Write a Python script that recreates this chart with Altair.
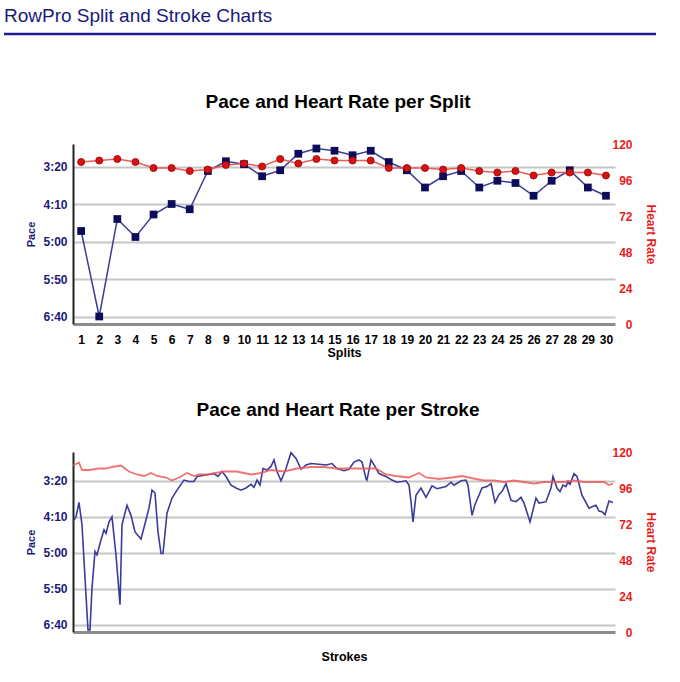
import altair as alt
import pandas as pd

# ---------------- data ----------------
header_text = "RowPro Split and Stroke Charts"

split_no = list(range(1, 31))
split_pace = [286, 400, 270, 294, 264, 250, 257, 206, 193, 197, 213, 205, 183, 176, 179,
              185, 179, 194, 205, 228, 213, 206, 228, 219, 222, 239, 219, 205, 228, 239]
split_hr = [108, 109, 110, 108, 104, 104, 102, 103, 106, 107, 105, 110, 107, 110, 109,
            109, 109, 104, 104, 104, 103, 104, 102, 101, 102, 99, 101, 101, 101, 99]

stroke_pace_x = [0, 3, 6, 9, 12, 15, 17, 19, 22, 24, 27, 31, 33, 36, 39, 43, 47, 49, 54, 58,
                 62, 68, 73, 76, 79, 82, 85, 88, 90, 94, 99, 104, 111, 116, 121, 124, 133, 138,
                 141, 145, 149, 153, 158, 163, 168, 173, 178, 181, 184, 187, 190, 194, 198, 201,
                 204, 208, 213, 218, 223, 228, 233, 238, 246, 253, 259, 264, 271, 276, 281, 286,
                 289, 293, 294, 298, 301, 306, 313, 319, 324, 329, 333, 336, 338, 340, 343, 348,
                 353, 359, 364, 373, 378, 381, 388, 393, 395, 399, 402, 406, 409, 414, 418, 422,
                 426, 429, 433, 438, 443, 448, 451, 457, 463, 466, 473, 478, 480, 484, 487, 490,
                 493, 495, 497, 501, 504, 509, 516, 519, 523, 526, 529, 532, 536, 540]
stroke_pace = [257, 250, 230, 261, 335, 407, 407, 349, 298, 303, 287, 268, 273, 257, 250, 303,
               372, 261, 234, 248, 271, 281, 254, 238, 213, 217, 271, 301, 301, 245, 224, 213,
               199, 201, 201, 194, 192, 191, 190, 194, 187, 194, 206, 210, 213, 210, 205, 209,
               199, 206, 183, 185, 180, 171, 187, 200, 183, 161, 169, 184, 178, 176, 177, 178,
               176, 183, 186, 184, 174, 171, 174, 197, 199, 171, 178, 190, 194, 199, 202, 201,
               200, 206, 229, 257, 220, 210, 223, 207, 211, 208, 202, 206, 200, 199, 206, 248,
               233, 220, 210, 208, 204, 230, 219, 215, 204, 227, 229, 223, 231, 257, 224, 231,
               229, 210, 194, 210, 215, 206, 208, 201, 205, 190, 194, 220, 238, 236, 234, 242,
               243, 247, 228, 230]

stroke_hr_x = [0, 6, 9, 16, 26, 33, 39, 48, 56, 64, 71, 78, 84, 93, 99, 106, 114, 121, 126,
               134, 151, 164, 178, 188, 198, 211, 224, 238, 251, 264, 279, 293, 303, 313, 323,
               336, 346, 353, 366, 379, 389, 403, 411, 421, 431, 441, 451, 461, 471, 481, 491,
               501, 511, 521, 531, 536, 540]
stroke_hr = [111, 113, 108, 108, 109, 109, 110, 111, 107, 105, 104, 106, 104, 103, 101, 103,
             106, 104, 105, 105, 107, 107, 105, 106, 108, 107, 109, 110, 110, 109, 109, 109,
             109, 105, 104, 103, 106, 103, 102, 103, 104, 102, 101, 101, 100, 101, 100, 99,
             100, 100, 100, 101, 100, 100, 100, 98, 99]

pace_ticks = [200, 250, 300, 350, 400]
hr_ticks = [0, 24, 48, 72, 96, 120]

# ---------------- style ----------------
FONT = "Liberation Sans"
NAVY = "#1a1a78"
RED = "#e81c1c"
PACE_LINE = "#3c3c98"
PACE_MARK = "#0c0c5a"
HR_LINE = "#ec5a5a"
HR_MARK = "#d41414"

W, H = 542, 180

pace_label = ("floor(datum.value/60) + ':' + (datum.value % 60 < 10 ? '0' : '') "
              "+ (datum.value % 60)")


def pace_axis():
    return alt.Axis(values=pace_ticks, labelExpr=pace_label, title="Pace", grid=True,
                    gridColor="#c6c6c6", gridWidth=2, domainColor="#222222", domainWidth=2,
                    ticks=False, tickSize=0, labelColor=NAVY, labelFont=FONT, labelFontSize=12,
                    labelFontWeight="bold", labelPadding=6, titleColor=NAVY, titleFont=FONT,
                    titleFontSize=11, titleFontWeight="bold", titleX=-42, titleY=90,
                    titleAngle=270, titleAlign="center", titleBaseline="middle")


def hr_axis():
    return alt.Axis(values=hr_ticks, orient="right", title="Heart Rate", grid=False,
                    domain=False, ticks=False, tickSize=0, labelColor=RED, labelFont=FONT,
                    labelFontSize=12, labelFontWeight="bold", labelAlign="right",
                    labelPadding=17, titleColor=RED, titleFont=FONT, titleFontSize=12,
                    titleFontWeight="bold", titleX=35, titleY=90, titleAngle=90,
                    titleAlign="center", titleBaseline="middle")


def chart_title(txt):
    return alt.TitleParams(txt, font=FONT, fontSize=19, fontWeight="bold", color="black",
                           baseline="bottom", offset=7, dx=-6)


# ---------------- header ----------------
hdr_df = pd.DataFrame({"t": [header_text]})
hdr_text = alt.Chart(hdr_df).mark_text(align="left", baseline="middle", font=FONT,
                                       fontSize=19, color=NAVY).encode(
    x=alt.value(-69), y=alt.value(10), text="t:N")
hdr_rule = alt.Chart(hdr_df).mark_rule(color="#1c1c8c", strokeWidth=2.5).encode(
    x=alt.value(-69), x2=alt.value(583), y=alt.value(28))
header = alt.layer(hdr_text, hdr_rule).properties(width=W, height=10)

# ---------------- split chart ----------------
split_df = pd.DataFrame({"Split": split_no, "Pace": split_pace, "HR": split_hr})
xs = alt.X("Split:Q", scale=alt.Scale(domain=[0.55, 30.5], nice=False, zero=False),
           axis=alt.Axis(values=split_no, format="d", title="Splits", grid=False,
                         ticks=False, tickSize=0, domainColor="#8c8c8c", domainWidth=3,
                         labelColor="black", labelFont=FONT, labelFontSize=12,
                         labelFontWeight="bold", labelPadding=10, titleColor="black",
                         titleFont=FONT, titleFontSize=12.5, titleFontWeight="bold",
                         titleY=22, titleBaseline="top"))
ys_pace = alt.Y("Pace:Q", scale=alt.Scale(domain=[170, 410], reverse=True, nice=False,
                                          zero=False), axis=pace_axis())
ys_hr = alt.Y("HR:Q", scale=alt.Scale(domain=[0, 120], nice=False), axis=hr_axis())

base = alt.Chart(split_df)
pace_layer = alt.layer(
    base.mark_line(color=PACE_LINE, strokeWidth=1.5).encode(x=xs, y=ys_pace),
    base.mark_square(size=60, color=PACE_MARK, opacity=1).encode(x=xs, y=ys_pace),
)
hr_layer = alt.layer(
    base.mark_line(color=HR_LINE, strokeWidth=1.5).encode(x=xs, y=ys_hr),
    base.mark_circle(size=50, color=HR_MARK, opacity=1, stroke="#a00000",
                     strokeWidth=0.8).encode(x=xs, y=ys_hr),
)
split_chart = alt.layer(pace_layer, hr_layer).resolve_scale(y="independent").properties(
    width=W, height=H, title=chart_title("Pace and Heart Rate per Split"))

# ---------------- stroke chart ----------------
sp_df = pd.DataFrame({"Stroke": stroke_pace_x, "Pace": stroke_pace})
sh_df = pd.DataFrame({"Stroke": stroke_hr_x, "HR": stroke_hr})
xs2 = alt.X("Stroke:Q", scale=alt.Scale(domain=[0, 542], nice=False, zero=False),
            axis=alt.Axis(labels=False, ticks=False, tickSize=0, grid=False, title="Strokes",
                          domainColor="#8c8c8c", domainWidth=3, titleColor="black",
                          titleFont=FONT, titleFontSize=12.5, titleFontWeight="bold",
                          titleY=18, titleBaseline="top"))
ys2_pace = alt.Y("Pace:Q", scale=alt.Scale(domain=[160, 410], reverse=True, nice=False,
                                           zero=False), axis=pace_axis())
stroke_pace_line = alt.Chart(sp_df).mark_line(color=PACE_LINE, strokeWidth=1.6).encode(
    x=xs2, y=ys2_pace)
stroke_hr_line = alt.Chart(sh_df).mark_line(color=HR_LINE, strokeWidth=1.8,
                                            opacity=0.85).encode(x=xs2, y=ys_hr)
stroke_chart = alt.layer(stroke_pace_line, stroke_hr_line).resolve_scale(
    y="independent").properties(width=W, height=H,
                                title=chart_title("Pace and Heart Rate per Stroke"))

chart = alt.vconcat(header, split_chart, stroke_chart, spacing=128, bounds="flush").configure_view(
    stroke=None).properties(padding={"left": 2, "top": 6, "right": 20, "bottom": 5},
                            background="white")

chart.save("out.html", embed_options={"renderer": "svg", "actions": False})
